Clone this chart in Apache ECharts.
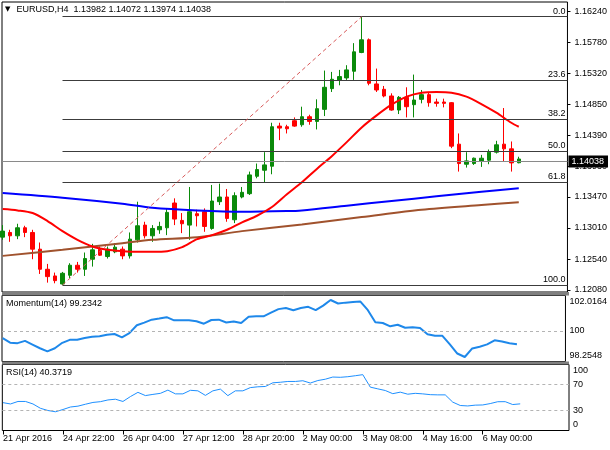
<!DOCTYPE html>
<html lang="en">
<head>
    <meta charset="utf-8" />
    <title>EURUSD H4</title>
    <script src="https://cdn.jsdelivr.net/npm/echarts@6/dist/echarts.min.js"></script>
    <style>
        html, body { margin: 0; padding: 0; background: #fff; }
        #chart { width: 610px; height: 450px; }
    </style>
</head>
<body>
<div id="chart"></div>
<script>
// H4 bars, one row per bar: [open, close, low, high]
var candles = [
    [1.1287, 1.1296, 1.1283, 1.1305], [1.1294, 1.1289, 1.1280, 1.1298], [1.1289, 1.1301, 1.1284, 1.1307],
    [1.1301, 1.1294, 1.1287, 1.1304], [1.1294, 1.1269, 1.1254, 1.1298], [1.1269, 1.1239, 1.1232, 1.1279],
    [1.1239, 1.1228, 1.1219, 1.1247], [1.1229, 1.1222, 1.1218, 1.1234], [1.1217, 1.1233, 1.12155, 1.1235],
    [1.1230, 1.1245, 1.1226, 1.1248], [1.1245, 1.1239, 1.1234, 1.1250], [1.1239, 1.1255, 1.1229, 1.1264],
    [1.1254, 1.1268, 1.1243, 1.1277], [1.1269, 1.1260, 1.1259, 1.1273], [1.1258, 1.1269, 1.1255, 1.1273],
    [1.1265, 1.1272, 1.1263, 1.1278], [1.1269, 1.1259, 1.1254, 1.1273], [1.1259, 1.1284, 1.1255, 1.1294],
    [1.1283, 1.1304, 1.1279, 1.1340], [1.1305, 1.1289, 1.1285, 1.1310], [1.1289, 1.1300, 1.1280, 1.1305],
    [1.1298, 1.1303, 1.1292, 1.1310], [1.1301, 1.1324, 1.1290, 1.1329], [1.1338, 1.1314, 1.1305, 1.1345],
    [1.1312, 1.1307, 1.1293, 1.1323], [1.1305, 1.1325, 1.1283, 1.1362], [1.1322, 1.1319, 1.1303, 1.1328],
    [1.1325, 1.1303, 1.1295, 1.1330], [1.1300, 1.1341, 1.1298, 1.1365], [1.1340, 1.1347, 1.1335, 1.1367],
    [1.1347, 1.1315, 1.1310, 1.1359], [1.1313, 1.1349, 1.1308, 1.1354], [1.1347, 1.1354, 1.1345, 1.1362],
    [1.1352, 1.1380, 1.1350, 1.1385], [1.1378, 1.1388, 1.1375, 1.1397], [1.1387, 1.1395, 1.1368, 1.1414],
    [1.1393, 1.1452, 1.1381, 1.1458], [1.1453, 1.1450, 1.1432, 1.1458], [1.1452, 1.1449, 1.1442, 1.1455],
    [1.1461, 1.1453, 1.1452, 1.1466], [1.1455, 1.1467, 1.1452, 1.1482], [1.1467, 1.1460, 1.1455, 1.1470],
    [1.1460, 1.1479, 1.1448, 1.1493], [1.1478, 1.1511, 1.1468, 1.1536], [1.1509, 1.1523, 1.1504, 1.1534],
    [1.1522, 1.1527, 1.1514, 1.1537], [1.1525, 1.1537, 1.1522, 1.1544], [1.1535, 1.1564, 1.1522, 1.1577],
    [1.1563, 1.1582, 1.1562, 1.16165], [1.1582, 1.1517, 1.1514, 1.1584], [1.1516, 1.1507, 1.1504, 1.1539],
    [1.1508, 1.1498, 1.1496, 1.1513], [1.1498, 1.1477, 1.1476, 1.1502], [1.1477, 1.1496, 1.1471, 1.1498],
    [1.1496, 1.1482, 1.1466, 1.1511], [1.1485, 1.1492, 1.1466, 1.1530], [1.1493, 1.1500, 1.1487, 1.1507],
    [1.1500, 1.1488, 1.1482, 1.1504], [1.1489, 1.1487, 1.1482, 1.1494], [1.1489, 1.1487, 1.1481, 1.1494],
    [1.1488, 1.1423, 1.1420, 1.1489], [1.1426, 1.1397, 1.1385, 1.1442], [1.1396, 1.1401, 1.1391, 1.1414],
    [1.1397, 1.1405, 1.1395, 1.1406], [1.1401, 1.1405, 1.1392, 1.1410], [1.1402, 1.1414, 1.1396, 1.1418],
    [1.1414, 1.1425, 1.1412, 1.1431], [1.1426, 1.1419, 1.1400, 1.1480], [1.1419, 1.1398, 1.1385, 1.1430],
    [1.13982, 1.14038, 1.13974, 1.14072]
];

// moving averages: [bar, price]
var maRed = [
    [0, 1.1329], [2, 1.1327], [4, 1.1323], [6, 1.1311], [8, 1.1296], [10, 1.1283], [12, 1.1273],
    [14, 1.1268], [16, 1.1266], [18, 1.1265], [20, 1.1265], [22, 1.1266], [24, 1.1272], [26, 1.1284],
    [28, 1.1290], [30, 1.1298], [32, 1.1309], [34, 1.1319], [36, 1.1332], [38, 1.1351], [40, 1.1369],
    [42, 1.1389], [44, 1.1408], [46, 1.1429], [48, 1.1451], [50, 1.1469], [52, 1.1485], [54, 1.1497],
    [56, 1.1503], [58, 1.1504], [60, 1.1503], [62, 1.1497], [64, 1.1486], [66, 1.1473], [68, 1.1458],
    [69, 1.1452]
];
var maBlue = [
    [0, 1.1353], [8, 1.1346], [16, 1.1337], [20, 1.1331], [26, 1.1327], [32, 1.1325], [38, 1.1326],
    [40, 1.1327], [46, 1.1334], [52, 1.1341], [58, 1.1348], [64, 1.1355], [69, 1.1360]
];
var maBrown = [
    [0, 1.1259], [8, 1.1268], [16, 1.1278], [20, 1.1283], [26, 1.1287], [32, 1.1296], [40, 1.1306],
    [48, 1.1317], [56, 1.1328], [64, 1.1335], [69, 1.1339]
];

var momentum = [
    99.59, 99.33, 99.30, 99.43, 99.22, 99.01, 98.83, 99.01, 99.32, 99.49,
    99.49, 99.59, 99.66, 99.69, 99.78, 99.82, 99.63, 99.87, 100.32, 100.47,
    100.64, 100.70, 100.78, 100.60, 100.60, 100.60, 100.55, 100.41, 100.62, 100.64,
    100.48, 100.54, 100.45, 100.81, 100.83, 100.83, 101.04, 101.24, 101.30, 101.18,
    101.30, 101.37, 101.18, 101.44, 101.76, 101.56, 101.61, 101.64, 101.67, 101.18,
    100.49, 100.45, 100.26, 100.35, 100.18, 100.21, 100.16, 99.81, 99.72, 99.72,
    99.23, 98.71, 98.51, 99.00, 99.10, 99.23, 99.46, 99.39, 99.29, 99.2342
];
var rsi = [
    42.2, 40.2, 44.0, 44.0, 40.2, 33.6, 30.3, 28.4, 31.8, 35.6,
    36.9, 39.8, 42.5, 43.7, 46.3, 47.4, 44.0, 51.4, 57.8, 52.9,
    54.7, 56.3, 61.2, 55.5, 55.5, 60.9, 60.1, 53.2, 60.1, 62.7,
    52.8, 60.1, 60.1, 65.0, 66.2, 66.7, 72.3, 73.1, 74.3, 74.3,
    75.4, 71.9, 75.7, 77.7, 81.0, 80.6, 81.5, 83.0, 84.6, 65.7,
    63.1, 60.6, 55.8, 58.1, 55.0, 56.3, 55.5, 54.3, 54.0, 54.0,
    43.0, 37.9, 37.2, 38.4, 38.7, 40.8, 43.6, 43.7, 39.3, 40.3719
];

// fibonacci swing (low bar -> high bar)
var swingLowBar = 8, swingLow = 1.12155;
var swingHighBar = 48, swingHigh = 1.16165;
var fibRatios = [0, 23.6, 38.2, 50, 61.8, 100];

var priceTicks = [1.12080, 1.12540, 1.13010, 1.13470, 1.13930, 1.14390, 1.14850, 1.15320, 1.15780, 1.16240];
var momTicks = [98.2548, 100, 102.0164];
var rsiTicks = [0, 30, 70, 100];
var dateTicks = [0, 8, 16, 24, 32, 40, 48, 56, 64];
var dateLabels = ['21 Apr 2016', '24 Apr 22:00', '26 Apr 04:00', '27 Apr 12:00', '28 Apr 20:00',
                  '2 May 00:00', '3 May 08:00', '4 May 16:00', '6 May 00:00'];

var FONT = 'Liberation Sans, Arial, sans-serif';
var X_MIN = -0.09, X_MAX = 75.51;

var candleData = candles.map(function (c, i) { return [i, c[0], c[1], c[2], c[3]]; });
var momData = momentum.map(function (v, i) { return [i, v]; });
var rsiData = rsi.map(function (v, i) { return [i, v]; });
var last = candles[candles.length - 1];
var lastClose = last[1];
var ohlcText = [last[0], last[3], last[2], last[1]].map(function (v) { return v.toFixed(5); }).join(' ');

var fibLines = fibRatios.map(function (r) {
    var lvl = swingHigh - (swingHigh - swingLow) * r / 100;
    return [
        { coord: [swingLowBar, lvl], lineStyle: { color: '#3c3c3c', width: 1, type: 'solid' },
          label: { show: true, position: 'insideEndTop', distance: [2, 1], formatter: r.toFixed(1),
                   color: '#000', fontSize: 9, fontFamily: FONT } },
        { coord: [X_MAX, lvl] }
    ];
});
var trendLine = [
    { coord: [swingLowBar, swingLow], lineStyle: { color: '#d85a5a', width: 1, type: [4, 3] }, label: { show: false } },
    { coord: [swingHighBar, swingHigh] }
];
var priceLine = {
    yAxis: lastClose,
    lineStyle: { color: '#8a8a8a', width: 1, type: 'solid' },
    label: { show: true, position: 'end', distance: 1, formatter: lastClose.toFixed(5),
             backgroundColor: '#000', color: '#fff', fontSize: 9, fontFamily: FONT,
             padding: [2, 4, 1, 3] }
};

function levelLine(vals) {
    return {
        silent: true, symbol: ['none', 'none'], animation: false,
        label: { show: false },
        lineStyle: { color: '#b4b4b4', width: 1, type: [3, 3] },
        data: vals.map(function (v) { return { yAxis: v }; })
    };
}

var txt = { fontFamily: FONT, fontSize: 9, fontWeight: 'normal', color: '#000' };
var edgeRich = { hi: { padding: [12, 0, 0, 0] }, lo: { padding: [0, 0, 12, 0] } };
var noLine = { show: false, onZero: false };

var option = {
    backgroundColor: '#fff',
    animation: false,
    title: [
        { text: '{t|▼}EURUSD,H4  ' + ohlcText, left: 5, top: 5, padding: 0,
          textStyle: Object.assign({ rich: { t: { fontSize: 7, fontFamily: 'DejaVu Sans', color: '#000', padding: [0, 6, 0, 0] } } }, txt) },
        { text: 'Momentum(14) ' + momentum[momentum.length - 1].toFixed(4), left: 6, top: 299, padding: 0, textStyle: txt },
        { text: 'RSI(14) ' + rsi[rsi.length - 1].toFixed(4), left: 6, top: 368, padding: 0, textStyle: txt }
    ],
    grid: [
        { left: 2, top: 2, width: 567, height: 290, show: true, borderColor: '#000', borderWidth: 1, backgroundColor: 'transparent' },
        { left: 2, top: 295.5, width: 567, height: 66, show: true, borderColor: '#000', borderWidth: 1, backgroundColor: 'transparent' },
        { left: 2, top: 364.5, width: 567, height: 66, show: true, borderColor: '#000', borderWidth: 1, backgroundColor: 'transparent' }
    ],
    graphic: [
        { type: 'rect', shape: { x: 2, y: 292, width: 567, height: 3.5 }, style: { fill: '#808080' }, z: 10 },
        { type: 'rect', shape: { x: 2, y: 361.5, width: 567, height: 3 }, style: { fill: '#808080' }, z: 10 }
    ],
    xAxis: [
        { type: 'value', gridIndex: 0, min: X_MIN, max: X_MAX, show: false, axisLine: noLine, splitLine: { show: false } },
        { type: 'value', gridIndex: 1, min: X_MIN, max: X_MAX, show: false, axisLine: noLine, splitLine: { show: false } },
        { type: 'value', gridIndex: 2, min: X_MIN, max: X_MAX, splitLine: { show: false },
          axisLine: noLine,
          axisTick: { show: true, customValues: dateTicks, length: 4, lineStyle: { color: '#000' } },
          axisLabel: { customValues: dateTicks, align: 'left', margin: 4, fontFamily: FONT, fontSize: 9, color: '#000',
                       formatter: function (v) { return dateLabels[Math.round(v / 8)]; } } }
    ],
    yAxis: [
        { type: 'value', gridIndex: 0, position: 'right', min: 1.12050, max: 1.16385, scale: true,
          splitLine: { show: false }, axisLine: noLine,
          axisTick: { show: true, customValues: priceTicks, length: 3, lineStyle: { color: '#000' } },
          axisLabel: { customValues: priceTicks, margin: 7, fontFamily: FONT, fontSize: 9, color: '#000',
                       formatter: function (v) { return v.toFixed(5); } } },
        { type: 'value', gridIndex: 1, position: 'right', min: momTicks[0], max: momTicks[2], scale: true,
          splitLine: { show: false }, axisLine: noLine, axisTick: { show: false },
          axisLabel: { customValues: momTicks, margin: 4, fontFamily: FONT, fontSize: 9, color: '#000', rich: edgeRich,
                       showMinLabel: true, showMaxLabel: true,
                       formatter: function (v) {
                           if (v === momTicks[2]) return '{hi|' + v + '}';
                           if (v === momTicks[0]) return '{lo|' + v + '}';
                           return String(v);
                       } } },
        { type: 'value', gridIndex: 2, position: 'right', min: 0, max: 100,
          splitLine: { show: false }, axisLine: noLine, axisTick: { show: false },
          axisLabel: { customValues: rsiTicks, margin: 4, fontFamily: FONT, fontSize: 9, color: '#000', rich: edgeRich,
                       showMinLabel: true, showMaxLabel: true,
                       formatter: function (v) {
                           if (v === 100) return '{hi|100}';
                           if (v === 0) return '{lo|0}';
                           return String(v);
                       } } }
    ],
    series: [
        {
            type: 'candlestick', xAxisIndex: 0, yAxisIndex: 0, data: candleData, barWidth: 4,
            itemStyle: { color: '#0a8a0a', color0: '#ff0000', borderColor: '#0a8a0a', borderColor0: '#ff0000', borderWidth: 1 },
            markLine: {
                silent: true, symbol: ['none', 'none'], animation: false,
                data: fibLines.concat([trendLine, priceLine])
            }
        },
        { type: 'line', xAxisIndex: 0, yAxisIndex: 0, data: maBrown, showSymbol: false, smooth: 0.3,
          lineStyle: { color: '#a0522d', width: 2 }, z: 3 },
        { type: 'line', xAxisIndex: 0, yAxisIndex: 0, data: maBlue, showSymbol: false, smooth: 0.3,
          lineStyle: { color: '#0000ff', width: 2 }, z: 3 },
        { type: 'line', xAxisIndex: 0, yAxisIndex: 0, data: maRed, showSymbol: false, smooth: 0.3,
          lineStyle: { color: '#ff0000', width: 2 }, z: 3 },
        { type: 'line', xAxisIndex: 1, yAxisIndex: 1, data: momData, showSymbol: false,
          lineStyle: { color: '#1e88ea', width: 2 }, markLine: levelLine([100]) },
        { type: 'line', xAxisIndex: 2, yAxisIndex: 2, data: rsiData, showSymbol: false,
          lineStyle: { color: '#1e90ff', width: 1 }, markLine: levelLine([30, 70]) }
    ]
};

var chart = echarts.init(document.getElementById('chart'));
chart.setOption(option);
</script>
</body>
</html>
